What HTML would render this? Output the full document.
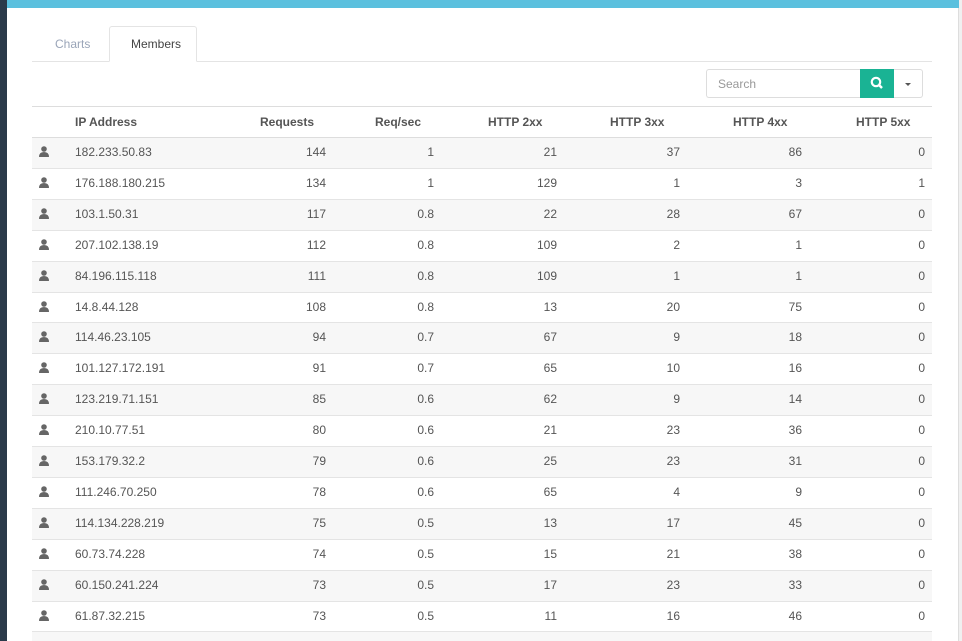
<!DOCTYPE html>
<html style="overflow:hidden;height:641px"><head><style>
body{margin:0;width:962px;height:641px;overflow:hidden;background:#f0f0f0;font-family:"Liberation Sans",sans-serif;position:relative}
.l{position:absolute;left:0;top:0;width:7px;height:641px;background:#2a3a4a}
.panel{position:absolute;left:7px;top:0;width:951px;height:641px;background:#fff;border-right:1px solid #ddd}
.top{position:absolute;left:7px;top:0;width:952px;height:8px;background:#5bc0de}
.tab{position:absolute;font-size:12px}
.a{position:absolute;font-size:12px;color:#555;white-space:nowrap}
.r{position:absolute;left:32px;width:900px;height:31px;border-top:1px solid #e4e4e4;box-sizing:border-box}
.ic{position:absolute;left:39px;width:10px;height:11px}
</style></head><body>
<div class="panel"></div><div class="l"></div><div class="top"></div>
<div style="position:absolute;left:32px;top:61px;width:900px;border-top:1px solid #e4e4e4"></div>
<div style="position:absolute;left:109px;top:26px;width:88px;height:36px;border:1px solid #e4e4e4;border-bottom:1px solid #fff;border-radius:3px 3px 0 0;background:#fff;box-sizing:border-box"></div>
<div class="tab" style="left:55px;top:37px;color:#9aa5b8">Charts</div>
<div class="tab" style="left:131px;top:37px;color:#444">Members</div>
<div style="position:absolute;left:706px;top:69px;width:155px;height:29px;border:1px solid #ddd;border-right:none;border-radius:3px 0 0 3px;box-sizing:border-box;font-size:12px;color:#999;padding:7px 11px">Search</div>
<div style="position:absolute;left:860px;top:69px;width:34px;height:29px;background:#1ab394"><svg width="34" height="29"><circle cx="16" cy="13" r="4.2" stroke="#fff" stroke-width="2.2" fill="none"/><line x1="19" y1="16" x2="22" y2="19" stroke="#fff" stroke-width="2.5"/></svg></div>
<div style="position:absolute;left:894px;top:69px;width:29px;height:29px;border:1px solid #ddd;border-left:none;border-radius:0 3px 3px 0;box-sizing:border-box"><div style="position:absolute;left:11px;top:13px;border:3px solid transparent;border-top:3px solid #555;border-bottom:none;width:0"></div></div>
<div id="t"></div>
<script>
var d=[["182.233.50.83",144,1,21,37,86,0],["176.188.180.215",134,1,129,1,3,1],["103.1.50.31",117,0.8,22,28,67,0],["207.102.138.19",112,0.8,109,2,1,0],["84.196.115.118",111,0.8,109,1,1,0],["14.8.44.128",108,0.8,13,20,75,0],["114.46.23.105",94,0.7,67,9,18,0],["101.127.172.191",91,0.7,65,10,16,0],["123.219.71.151",85,0.6,62,9,14,0],["210.10.77.51",80,0.6,21,23,36,0],["153.179.32.2",79,0.6,25,23,31,0],["111.246.70.250",78,0.6,65,4,9,0],["114.134.228.219",75,0.5,13,17,45,0],["60.73.74.228",74,0.5,15,21,38,0],["60.150.241.224",73,0.5,17,23,33,0],["61.87.32.215",73,0.5,11,16,46,0]];
var h='<div class="r" style="top:106px;border-top:1px solid #ddd"></div>';
var hd=[["IP Address",75],["Requests",260],["Req/sec",375],["HTTP 2xx",488],["HTTP 3xx",610],["HTTP 4xx",733],["HTTP 5xx",856]];
hd.forEach(function(x){h+='<div class="a" style="left:'+x[1]+'px;top:115px;font-weight:bold;color:#555">'+x[0]+'</div>'});
var rx=[326,434,557,680,802,925];
for(var i=0;i<17;i++){var y=Math.round(137+i*30.9);
h+='<div class="r" style="top:'+y+'px;height:'+(i==16?10:31)+'px;'+(i==0?'border-top:1px solid #ddd;':'')+'background:'+(i%2==0?'#f7f7f7':'#fff')+'"></div>';
if(i<16){var r=d[i];
h+='<svg class="ic" style="top:'+(y+9)+'px" viewBox="0 0 10 11"><circle cx="5" cy="3" r="2.8" fill="#666"/><path d="M0 11 Q0 6 5 6 Q10 6 10 11Z" fill="#666"/></svg>';
h+='<div class="a" style="left:75px;top:'+(y+8)+'px">'+r[0]+'</div>';
for(var j=0;j<6;j++)h+='<div class="a" style="right:'+(962-rx[j])+'px;top:'+(y+8)+'px">'+r[j+1]+'</div>';}}
document.getElementById('t').innerHTML=h;
</script>
</body></html>
